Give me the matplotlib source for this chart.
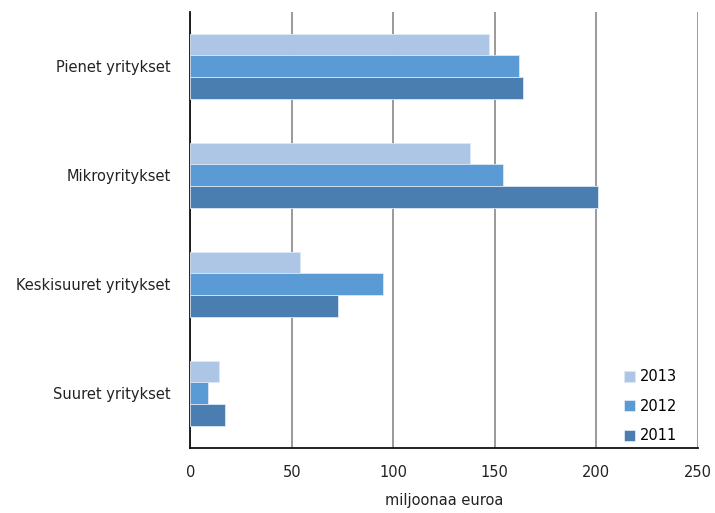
import numpy as np
import matplotlib.pyplot as plt

kategoriat = ["Pienet yritykset", "Mikroyritykset", "Keskisuuret yritykset", "Suuret yritykset"]
vuodet = ["2013", "2012", "2011"]
arvot_2013 = [147, 138, 54, 14]
arvot_2012 = [162, 154, 95, 9]
arvot_2011 = [164, 201, 73, 17]
varit = ["#AEC6E6", "#5B9BD5", "#4A7EB0"]

plt.rcParams['font.family'] = ['DejaVu Sans']

fig = plt.figure(figsize=(7.15, 5.13), dpi=100)
ax = fig.add_axes([0.266, 0.127, 0.71, 0.85])

y = np.arange(len(kategoriat))
h = 0.2
sarjat = [arvot_2013, arvot_2012, arvot_2011]
for i, (vuosi, arvot) in enumerate(zip(vuodet, sarjat)):
    ax.barh(y + (i - 1) * h, arvot, height=h, color=varit[i], label=vuosi,
            edgecolor="#dce8f5", linewidth=0.6, zorder=3)

ax.set_ylim(len(kategoriat) - 0.5, -0.5)
ax.set_xlim(0, 250)
ax.set_xticks([0, 50, 100, 150, 200, 250])
ax.set_yticks(y)
ax.set_yticklabels(kategoriat, fontsize=10.5, color="#222222")
ax.tick_params(axis="x", labelsize=10.5, colors="#222222", length=0, pad=12)
ax.tick_params(axis="y", length=0, pad=14)
ax.xaxis.grid(True, color="#7f7f7f", linewidth=1.1, zorder=0)
ax.set_axisbelow(True)
for s in ["top", "right"]:
    ax.spines[s].set_visible(False)
ax.spines["left"].set_color("#111111")
ax.spines["bottom"].set_color("#111111")
ax.spines["left"].set_linewidth(1.3)
ax.spines["bottom"].set_linewidth(1.3)
ax.set_xlabel("miljoonaa euroa", fontsize=10.5, color="#222222", labelpad=10)

leg = ax.legend(loc="lower right", frameon=False, fontsize=10.5, handlelength=0.8,
                handleheight=0.8, handletextpad=0.3, labelspacing=1.0,
                bbox_to_anchor=(0.985, -0.02))

fig.savefig("out.png", dpi=100)
